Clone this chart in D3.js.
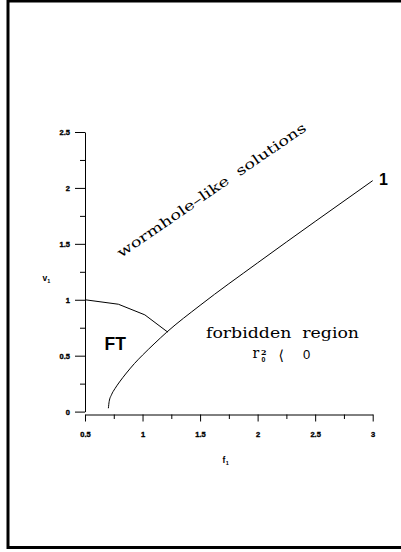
<!DOCTYPE html>
<html>
<head>
<meta charset="utf-8">
<script src="https://cdn.jsdelivr.net/npm/d3@7"></script>
<style>
  body { margin: 0; background: #fff; }
  svg { display: block; }
</style>
</head>
<body>
<div class="content"></div>
<script>
// boundary curve "1" (lower edge of allowed region)
const curveF = [0.703, 0.71, 0.73, 0.76, 0.80, 0.86, 0.93, 1.0, 1.1, 1.21, 1.5, 2.0, 2.5, 3.0];
const curveV = [0.03, 0.09, 0.15, 0.205, 0.265, 0.345, 0.43, 0.505, 0.605, 0.71, 0.95, 1.33, 1.70, 2.065];
// FT region boundary
const ftF = [0.5, 0.79, 1.02, 1.22];
const ftV = [1.0, 0.96, 0.865, 0.71];
// ticks
const xMajor = [0.5, 1, 1.5, 2, 2.5, 3];
const xMinor = [0.75, 1.25, 1.75, 2.25, 2.75];
const yMajor = [0, 0.5, 1, 1.5, 2, 2.5];
const yMinor = [0.25, 0.75, 1.25, 1.75, 2.25];

const SANS = '"Liberation Sans", Arial, sans-serif';
const SERIF = '"DejaVu Serif", serif';

function main() {
  const svgW = 401, svgH = 552;
  const svg = d3.select('.content').append('svg')
                .attr('width', svgW)
                .attr('height', svgH);

  // frame
  svg.append('rect')
     .attr('x', 8).attr('y', 1)
     .attr('width', 400).attr('height', 546.5)
     .attr('fill', 'none').attr('stroke', '#000').attr('stroke-width', 3);

  const x = d3.scaleLinear().domain([0.5, 3]).range([85, 372.7]);
  const y = d3.scaleLinear().domain([0, 2.5]).range([411.6, 132]);

  // y axis
  const yG = svg.append('g').attr('transform', 'translate(85,0)');
  yG.call(d3.axisLeft(y).tickValues(yMajor).tickSize(10).tickSizeOuter(0)
            .tickPadding(5).tickFormat(d3.format('')));
  yG.append('g').call(d3.axisLeft(y).tickValues(yMinor).tickSize(5).tickSizeOuter(0).tickFormat(''))
    .select('.domain').remove();

  // x axis, set slightly below v=0
  const xG = svg.append('g').attr('transform', 'translate(0,414.5)');
  xG.call(d3.axisBottom(x).tickValues(xMajor).tickSize(7).tickSizeOuter(0)
            .tickPadding(10).tickFormat(d3.format('')));
  xG.append('g').call(d3.axisBottom(x).tickValues(xMinor).tickSize(4.5).tickSizeOuter(0).tickFormat(''))
    .select('.domain').remove();

  svg.selectAll('.domain, .tick line').attr('stroke', '#000').attr('stroke-width', 1);
  svg.selectAll('.tick text')
     .style('font-family', SANS).style('font-weight', 'bold').style('font-size', '7.5px')
     .attr('fill', '#000').attr('stroke', '#000').attr('stroke-width', 0.35);

  const line = d3.line()
                 .x(d => x(d[0]))
                 .y(d => y(d[1]))
                 .curve(d3.curveMonotoneX);

  svg.append('path').datum(d3.zip(curveF, curveV))
     .attr('d', line)
     .attr('fill', 'none').attr('stroke', '#000').attr('stroke-width', 1);

  svg.append('path').datum(d3.zip(ftF, ftV))
     .attr('d', d3.line().x(d => x(d[0])).y(d => y(d[1])))
     .attr('fill', 'none').attr('stroke', '#000').attr('stroke-width', 1);

  function sans(sel, size, weight) {
    return sel.style('font-family', SANS).style('font-size', size + 'px')
              .style('font-weight', weight || 'bold').attr('fill', '#000');
  }
  function serif(sel, size) {
    return sel.style('font-family', SERIF).style('font-size', size + 'px')
              .style('font-weight', 'normal').attr('fill', '#000');
  }

  // axis titles
  const vt = sans(svg.append('text').attr('x', 42.5).attr('y', 280.5), 8.5);
  vt.append('tspan').text('v');
  sans(vt.append('tspan').attr('dy', 2.5), 5.5).text('1');
  const ft = sans(svg.append('text').attr('x', 222.5).attr('y', 462.5), 8.5);
  ft.append('tspan').text('f');
  sans(ft.append('tspan').attr('dy', 2).attr('dx', 0.5), 5.5).text('1');

  // region labels
  serif(svg.append('text'), 13.5)
     .attr('transform', 'translate(121,258) rotate(-34.5)')
     .attr('textLength', 226).attr('lengthAdjust', 'spacingAndGlyphs')
     .text('wormhole\u2013like\u00a0 solutions');

  serif(svg.append('text'), 14)
     .attr('x', 206).attr('y', 337.5)
     .attr('textLength', 153).attr('lengthAdjust', 'spacingAndGlyphs')
     .text('forbidden\u00a0 region');

  serif(svg.append('text').attr('x', 252.5).attr('y', 358), 14).text('r');
  serif(svg.append('text').attr('x', 261).attr('y', 355), 8).style('font-weight', 'bold').text('2');
  sans(svg.append('text').attr('x', 261.5).attr('y', 362), 7).text('0');
  sans(svg.append('text').attr('x', 278.5).attr('y', 360), 14, 'normal')
     .style('font-family', '"DejaVu Sans", sans-serif').text('\u27e8');
  sans(svg.append('text').attr('x', 303).attr('y', 358.5), 13, 'normal').text('0');

  sans(svg.append('text').attr('x', 104.5).attr('y', 350), 17.5).text('FT');
  sans(svg.append('text').attr('x', 379).attr('y', 185), 16).text('1');
}
main();
</script>
</body>
</html>
